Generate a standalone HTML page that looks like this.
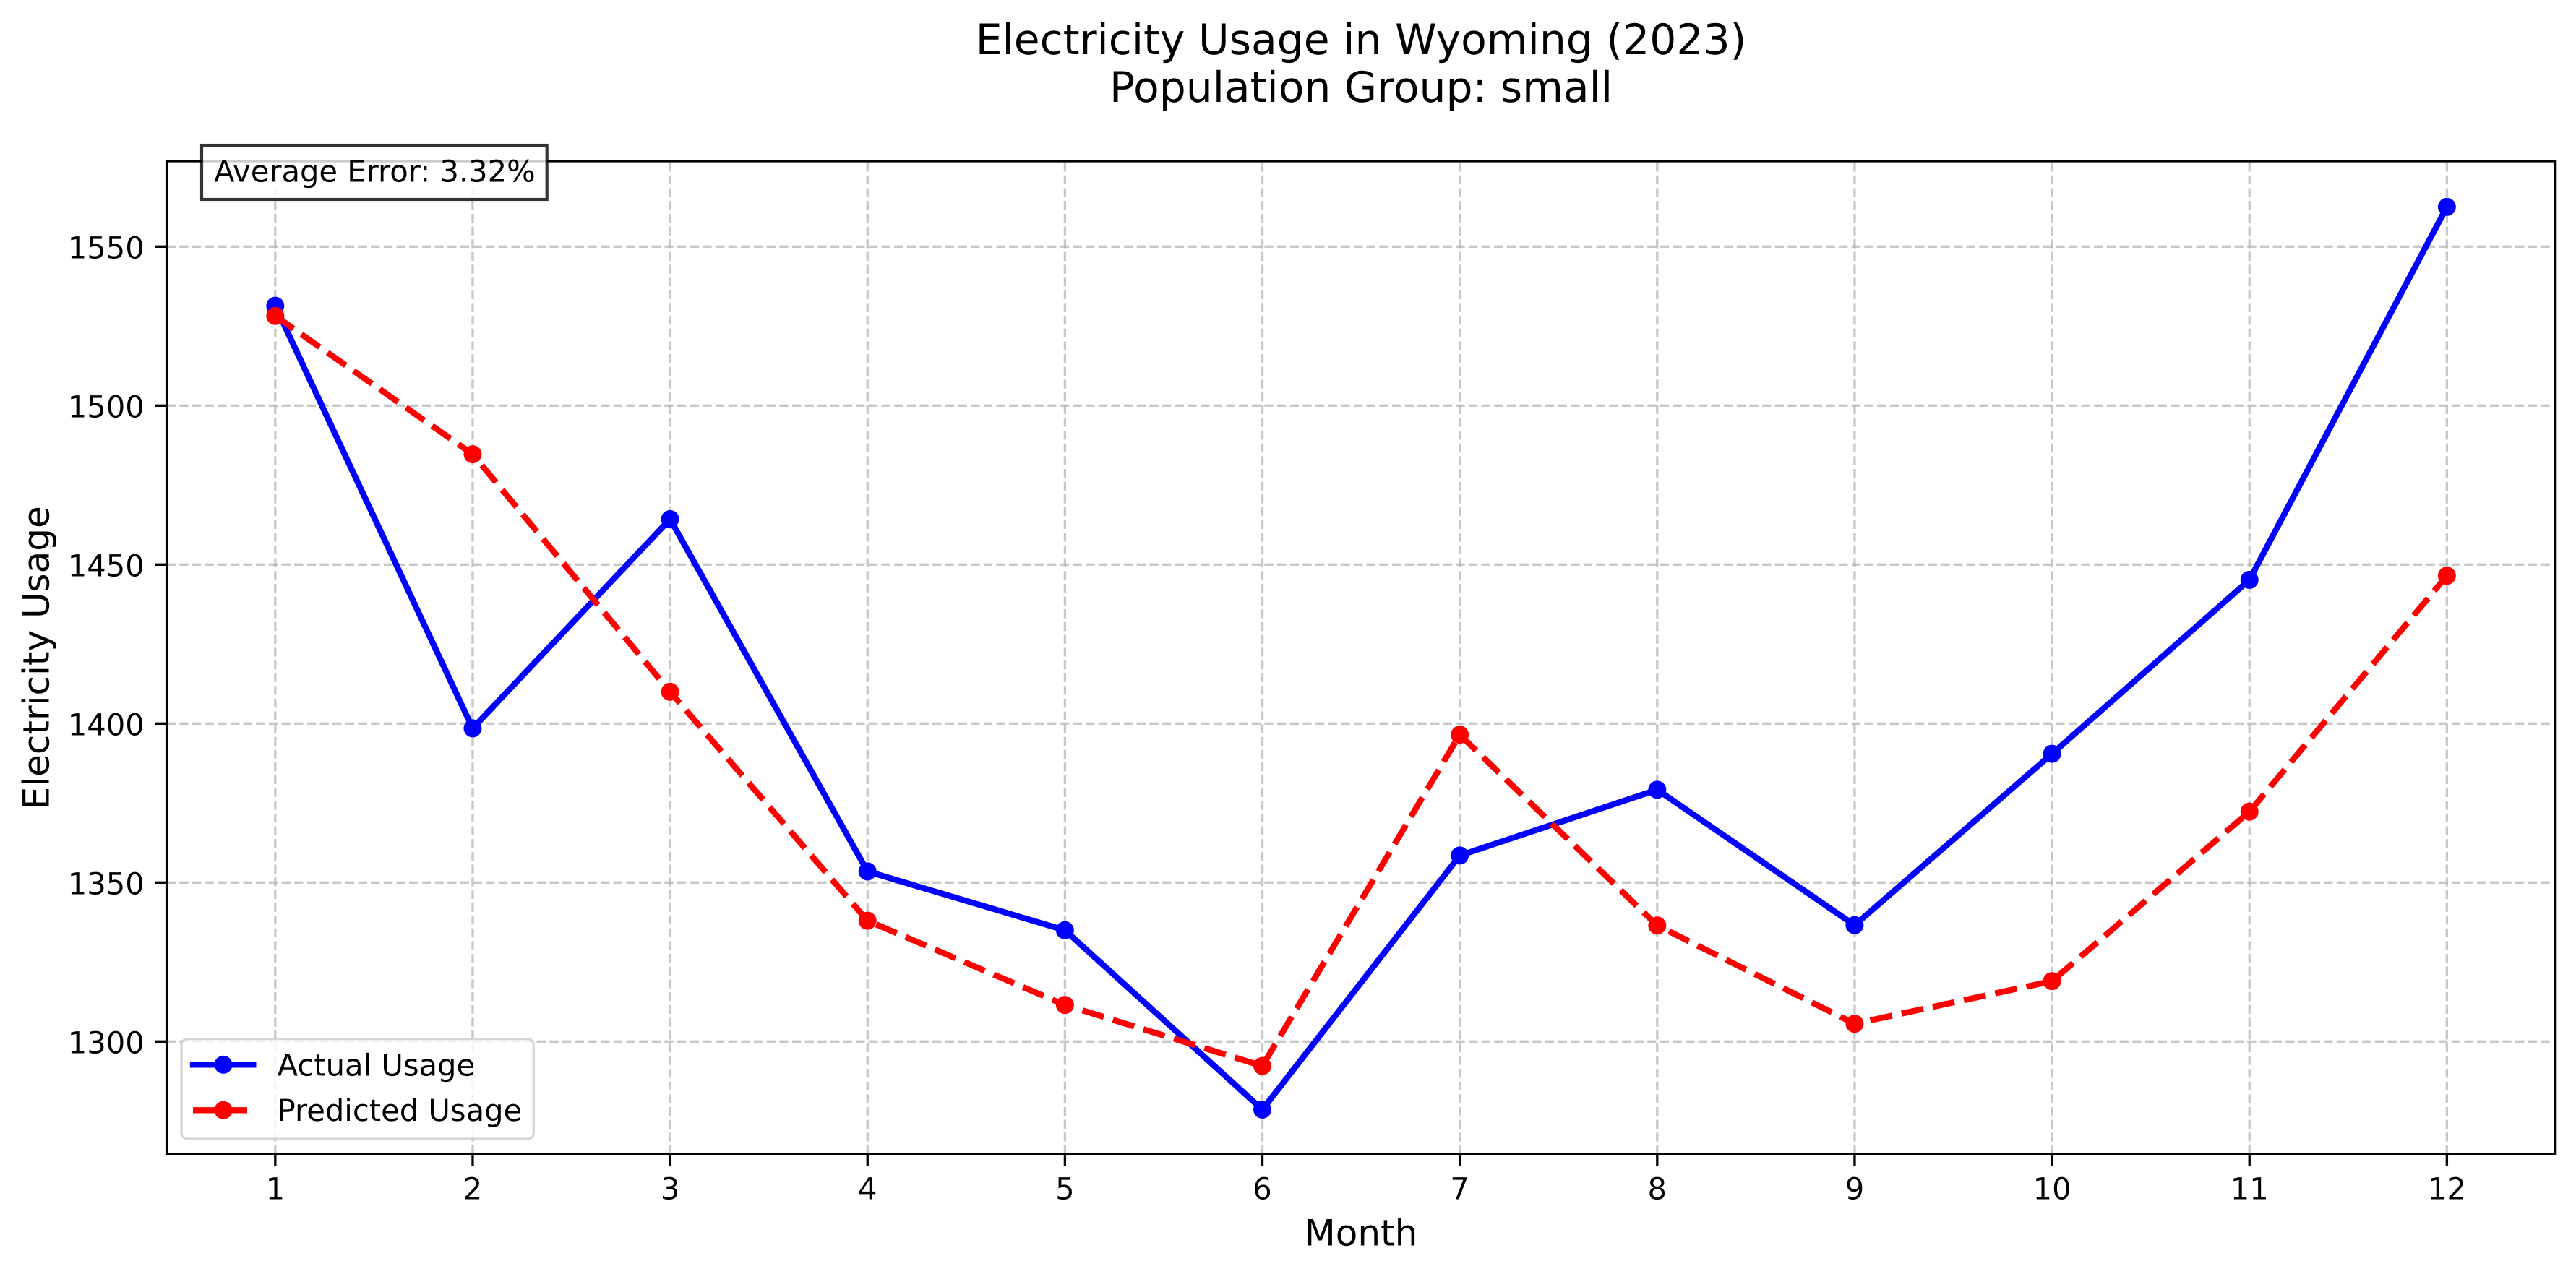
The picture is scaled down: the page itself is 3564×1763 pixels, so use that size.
<!DOCTYPE html>
<html lang="en">
<head>
<meta charset="utf-8">
<title>Electricity Usage in Wyoming (2023)</title>
<style>
  html, body { margin: 0; padding: 0; background: #ffffff; }
  svg { display: block; }
  text { font-family: "DejaVu Sans", "Liberation Sans", sans-serif; fill: #000000; text-rendering: geometricPrecision; }
</style>
</head>
<body>
<svg id="chart" xmlns="http://www.w3.org/2000/svg" width="3564" height="1763" viewBox="0 0 3564 1763">
  <defs>
    <clipPath id="plot-clip"><rect x="230.6" y="223" width="3305" height="1374.3"></rect></clipPath>
  </defs>
  <rect x="0" y="0" width="3564" height="1763" fill="#ffffff"></rect>
  <text x="1883" y="75" font-size="58.33" text-anchor="middle">Electricity Usage in Wyoming (2023)</text>
  <text x="1883" y="141" font-size="58.33" text-anchor="middle">Population Group: small</text>
  <g id="grid-layer" clip-path="url(#plot-clip)"></g>
  <g id="series-layer" clip-path="url(#plot-clip)"></g>
  <g id="tick-layer"></g>
  <rect x="230.6" y="223" width="3305" height="1374.3" fill="none" stroke="#000000" stroke-width="3.33"></rect>
  <text x="1883" y="1723.3" font-size="50" text-anchor="middle">Month</text>
  <text transform="translate(67.3 910.3) rotate(-90)" font-size="50" text-anchor="middle">Electricity Usage</text>
  <g>
    <rect x="279" y="201" width="477.7" height="75" fill="#ffffff" fill-opacity="0.8" stroke="#000000" stroke-opacity="0.8" stroke-width="4.17"></rect>
    <text x="296" y="251.7" font-size="41.67">Average Error: 3.32%</text>
  </g>
  <g>
    <rect x="251" y="1437.7" width="487.3" height="138.3" rx="8.3" ry="8.3" fill="#ffffff" fill-opacity="0.8" stroke="#cccccc" stroke-opacity="0.8" stroke-width="3.33"></rect>
    <line x1="267" y1="1473.3" x2="350.3" y2="1473.3" stroke="#0000ff" stroke-width="8.33" stroke-linecap="square"></line>
    <circle cx="309" cy="1473.3" r="12.5" fill="#0000ff"></circle>
    <text x="383.6" y="1488.3" font-size="41.67">Actual Usage</text>
    <line x1="267" y1="1536.3" x2="350.3" y2="1536.3" stroke="#ff0000" stroke-width="8.33" stroke-dasharray="30.83 13.33"></line>
    <circle cx="309" cy="1536.3" r="12.5" fill="#ff0000"></circle>
    <text x="383.6" y="1551" font-size="41.67">Predicted Usage</text>
  </g>
</svg>
<script>
const months = [1, 2, 3, 4, 5, 6, 7, 8, 9, 10, 11, 12];
const actualUsage = [1531.4, 1398.5, 1464.3, 1353.5, 1335, 1278.6, 1358.5, 1379.2, 1336.6, 1390.5, 1445.2, 1562.5];
const predictedUsage = [1528.2, 1484.7, 1410, 1338, 1311.5, 1292.3, 1396.5, 1336.5, 1305.6, 1319, 1372.3, 1446.5];
const xTickLabels = [1, 2, 3, 4, 5, 6, 7, 8, 9, 10, 11, 12];
const yTickLabels = [1300, 1350, 1400, 1450, 1500, 1550];

const SVG_NS = 'http://www.w3.org/2000/svg';
const plotLeft = 230.6, plotRight = 3535.6, plotTop = 223, plotBottom = 1597.3;
const xMin = 0.45, xMax = 12.55;
const yAnchorLow = 1300, yAnchorHigh = 1550, yAnchorLowPx = 1441.3, yAnchorHighPx = 341.3;

function xScale(m) {
  return plotLeft + (m - xMin) / (xMax - xMin) * (plotRight - plotLeft);
}
function yScale(v) {
  return yAnchorLowPx + (v - yAnchorLow) / (yAnchorHigh - yAnchorLow) * (yAnchorHighPx - yAnchorLowPx);
}
function make(tag, parent, attrs) {
  const node = document.createElementNS(SVG_NS, tag);
  for (const key in attrs) node.setAttribute(key, attrs[key]);
  parent.appendChild(node);
  return node;
}

const gridLayer = document.getElementById('grid-layer');
const tickLayer = document.getElementById('tick-layer');
const seriesLayer = document.getElementById('series-layer');
const gridStyle = { stroke: '#b0b0b0', 'stroke-opacity': 0.7, 'stroke-width': 3.33, 'stroke-dasharray': '12.33 5.33', fill: 'none' };

xTickLabels.forEach(function (label) {
  const x = xScale(label);
  const grid = make('line', gridLayer, Object.assign({ x1: x, y1: plotBottom, x2: x, y2: plotTop }, gridStyle));
  
  
  const tick = make('line', tickLayer, { x1: x, y1: plotBottom, x2: x, y2: plotBottom + 14.58 + 1.67, stroke: '#000000', 'stroke-width': 3.33 });
  
  
  const text = make('text', tickLayer, { x: x, y: 1659.3, 'font-size': 41.67, 'text-anchor': 'middle' });
  
  
  text.textContent = String(label);
});

yTickLabels.forEach(function (label) {
  const y = yScale(label);
  const grid = make('line', gridLayer, Object.assign({ x1: plotLeft, y1: y, x2: plotRight, y2: y }, gridStyle));
  
  
  const tick = make('line', tickLayer, { x1: plotLeft - 14.58 - 1.67, y1: y, x2: plotLeft, y2: y, stroke: '#000000', 'stroke-width': 3.33 });
  
  
  const text = make('text', tickLayer, { x: 199.8, y: y + 16, 'font-size': 41.67, 'text-anchor': 'end' });
  
  
  text.textContent = String(label);
});

function pointsFor(values) {
  return months.map(function (m, i) { return xScale(m) + ',' + yScale(values[i]); }).join(' ');
}

const actualLine = make('polyline', seriesLayer, { points: pointsFor(actualUsage), fill: 'none', stroke: '#0000ff', 'stroke-width': 8.33, 'stroke-linejoin': 'round', 'stroke-linecap': 'square' });


actualUsage.forEach(function (v, i) {
  const dot = make('circle', seriesLayer, { cx: xScale(months[i]), cy: yScale(v), r: 12.5, fill: '#0000ff' });
  
  
});

const predictedLine = make('polyline', seriesLayer, { points: pointsFor(predictedUsage), fill: 'none', stroke: '#ff0000', 'stroke-width': 8.33, 'stroke-linejoin': 'round', 'stroke-dasharray': '30.83 13.33' });


predictedUsage.forEach(function (v, i) {
  const dot = make('circle', seriesLayer, { cx: xScale(months[i]), cy: yScale(v), r: 12.5, fill: '#ff0000' });
  
  
});
</script>
</body>
</html>
